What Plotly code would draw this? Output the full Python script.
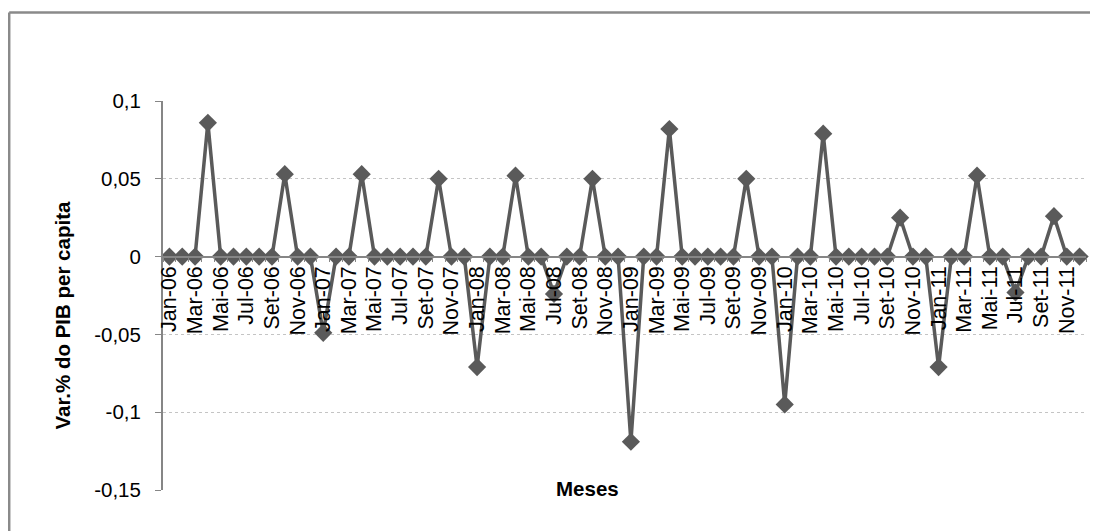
import plotly.graph_objects as go

years = ["06", "07", "08", "09", "10", "11"]
month_names = ["Jan", "Fev", "Mar", "Abr", "Mai", "Jun", "Jul", "Ago", "Set", "Out", "Nov", "Dez"]
months = [f"{m}-{y}" for y in years for m in month_names]

values_2006 = [0, 0, 0, 0.086, 0, 0, 0, 0, 0, 0.053, 0, 0]
values_2007 = [-0.049, 0, 0, 0.053, 0, 0, 0, 0, 0, 0.050, 0, 0]
values_2008 = [-0.071, 0, 0, 0.052, 0, 0, -0.024, 0, 0, 0.050, 0, 0]
values_2009 = [-0.119, 0, 0, 0.082, 0, 0, 0, 0, 0, 0.050, 0, 0]
values_2010 = [-0.095, 0, 0, 0.079, 0, 0, 0, 0, 0, 0.025, 0, 0]
values_2011 = [-0.071, 0, 0, 0.052, 0, 0, -0.023, 0, 0, 0.026, 0, 0]
values = values_2006 + values_2007 + values_2008 + values_2009 + values_2010 + values_2011

tick_labels = [m if i % 2 == 0 else "" for i, m in enumerate(months)]
y_tickvals = [-0.15, -0.1, -0.05, 0, 0.05, 0.1]
y_ticktext = ["-0,15", "-0,1", "-0,05", "0", "0,05", "0,1"]

FONT = "Liberation Sans, Arial, sans-serif"
OFF = 8  # page body margin
W, H = 1098 - OFF, 531 - OFF
L, T = 163 - OFF, 101 - OFF
R = W - (1086 - OFF)
B = H - (490 - OFF)
pw, ph = W - L - R, H - T - B

def px_x(x):
    return (x - OFF - L) / pw

def px_y(y):
    return (H - B - (y - OFF)) / ph

fig = go.Figure()
fig.add_trace(go.Scatter(
    x=months, y=values, mode="lines+markers",
    line=dict(color="#5a5a5a", width=3.5),
    marker=dict(symbol="diamond", size=14, color="#5a5a5a"),
    showlegend=False, cliponaxis=False,
))

ymin, ymax = -0.15, 0.1
bx0, by0 = px_x(9.2), px_y(12.5)
bx1, by1 = px_x(1098), px_y(531)

fig.update_layout(
    width=W, height=H,
    margin=dict(l=L, r=R, t=T, b=B),
    paper_bgcolor="white", plot_bgcolor="white",
    font=dict(family=FONT, size=20, color="black"),
    xaxis=dict(
        type="category", categoryorder="array", categoryarray=months,
        tickvals=months, ticktext=tick_labels, tickangle=-90,
        tickson="boundaries", ticks="outside", ticklen=4, tickcolor="#868686",
        showline=True, linecolor="#868686", linewidth=2,
        showgrid=False, zeroline=False,
        anchor="free", position=(0 - ymin) / (ymax - ymin),
        range=[-0.5, len(months) - 0.5],
        tickfont=dict(family=FONT, size=21.5, color="black"),
    ),
    yaxis=dict(
        range=[ymin, ymax], tickvals=y_tickvals, ticktext=y_ticktext,
        showline=True, linecolor="#868686", linewidth=2,
        ticks="outside", ticklen=6, tickcolor="#868686",
        ticklabelstandoff=10,
        showgrid=True, gridcolor="#c4c4c4", griddash="3px,3px", gridwidth=1,
        zeroline=False,
        tickfont=dict(family=FONT, size=20.5, color="black"),
    ),
    annotations=[
        dict(text="<b>Var.% do PIB per capita</b>", x=px_x(48), y=px_y(316),
             xref="paper", yref="paper", textangle=-90, showarrow=False,
             font=dict(family=FONT, size=20.5, color="black")),
        dict(text="<b>Meses</b>", x=px_x(587), y=px_y(502),
             xref="paper", yref="paper", showarrow=False,
             font=dict(family=FONT, size=20.5, color="black")),
    ],
    shapes=[
        dict(type="line", xref="paper", yref="paper", x0=bx0, x1=bx0, y0=by1, y1=by0,
             line=dict(color="#8a8a8a", width=2.5), layer="below"),
        dict(type="line", xref="paper", yref="paper", x0=bx0, x1=bx1, y0=by0, y1=by0,
             line=dict(color="#8a8a8a", width=2.5), layer="below"),
    ],
)

fig.write_html("out.html")
